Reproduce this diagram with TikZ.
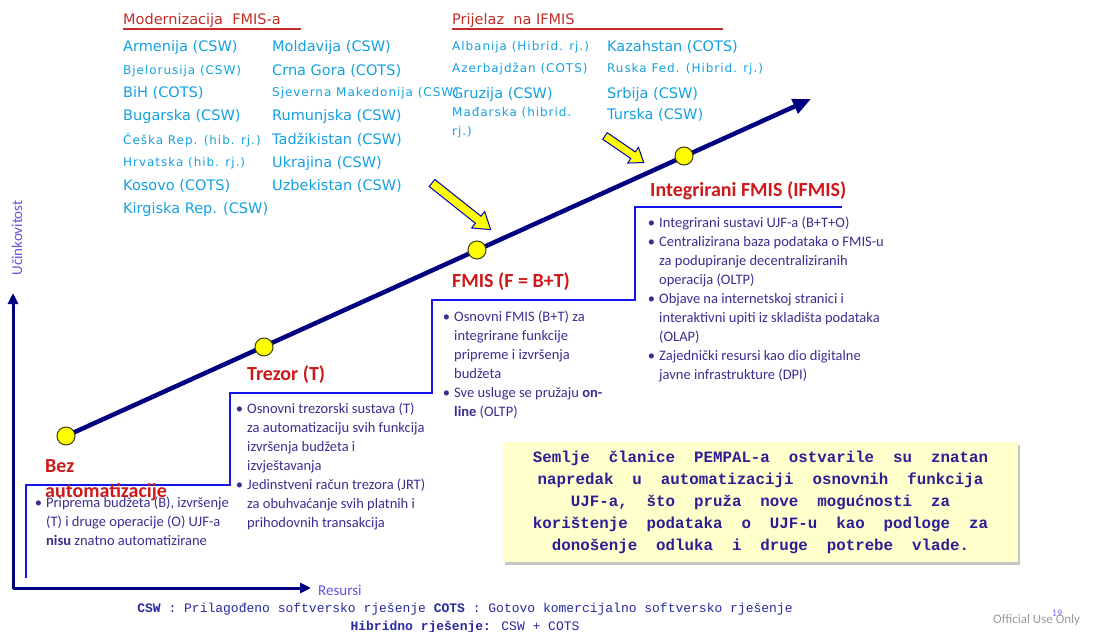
\documentclass[tikz,border=0pt]{standalone}
\usepackage{fontspec}
\setmainfont{Carlito}
\newfontfamily\verd{DejaVu Sans}
\newfontfamily\verdsp{DejaVu Sans}[LetterSpace=8]
\newfontfamily\mono{Liberation Mono}
\usetikzlibrary{arrows.meta,shadows}
\definecolor{axisnavy}{RGB}{0,0,128}
\definecolor{stepblue}{RGB}{20,20,235}
\definecolor{ctry}{RGB}{20,160,225}
\definecolor{headred}{RGB}{195,45,40}
\definecolor{stagered}{RGB}{205,25,25}
\definecolor{bultext}{RGB}{60,45,145}
\definecolor{axlab}{RGB}{95,85,225}
\definecolor{noteyel}{RGB}{255,255,204}
\definecolor{notetext}{RGB}{45,30,150}
\definecolor{legtext}{RGB}{40,40,160}
\definecolor{dotyel}{RGB}{255,255,0}
\definecolor{dotline}{RGB}{60,60,20}
\newcommand{\mybul}{\leavevmode\llap{\textbullet\hspace{4pt}}}
\begin{document}
\begin{tikzpicture}[x=1pt,y=-1pt,
  country/.style={anchor=west,inner sep=0pt,text=ctry,font=\verd\fontsize{14.5}{17}\selectfont},
  countrysm/.style={anchor=west,inner sep=0pt,text=ctry,font=\verdsp\fontsize{12}{19}\selectfont},
  heading/.style={anchor=west,inner sep=0pt,text=headred,font=\verd\fontsize{14.5}{17}\selectfont},
  underl/.style={draw=headred,line width=1.6pt},
  stagetitle/.style={anchor=west,inner sep=0pt,text=stagered,font=\bfseries\fontsize{20}{25}\selectfont,align=left},
  bullets/.style={anchor=north west,inner sep=0pt,text=bultext,font=\fontsize{14.5}{19}\selectfont,align=left},
  axis/.style={draw=axisnavy,line width=3pt,line join=round,{Triangle[length=11pt,width=10pt]}-{Triangle[length=11pt,width=10pt]}},
  axislabel/.style={inner sep=0pt,text=axlab,font=\fontsize{15}{18}\selectfont},
  stepline/.style={draw=stepblue,line width=1.5pt},
  mainline/.style={draw=axisnavy,line width=4.5pt,-{Triangle[length=18pt,width=15pt]}},
  milestone/.style={circle,draw=dotline,line width=1pt,fill=dotyel,minimum size=18pt,inner sep=0pt},
  yarrow/.style={draw=blue!70!black,line width=1pt,fill=dotyel,line join=miter},
  note/.style={fill=noteyel,minimum width=515pt,minimum height=120pt,inner sep=0pt,align=center,text=notetext,font=\mono\bfseries\fontsize{15.8}{22}\selectfont,drop shadow={shadow xshift=1.5pt,shadow yshift=-3pt,opacity=0.45}},
  legend/.style={align=center,inner sep=0pt,text=legtext,font=\mono\fontsize{13}{18}\selectfont}
]
\useasboundingbox (0,0) rectangle (1093,632);

% step outline
\draw[stepline] (26,578) -- (26,485) -- (230,485) -- (230,393) -- (432,393) -- (432,300) -- (635,300) -- (635,207) -- (842,207);

% axes
\coordinate (origin) at (13,588);
\coordinate (ytip) at (13,293);
\coordinate (xtip) at (311,588);
\draw[axis] (ytip) -- (origin) -- (xtip);
\node[axislabel,rotate=90] (ylab) at (17,238) {Učinkovitost};
\node[axislabel,anchor=west] (xlab) at (318,590) {Resursi};

% main line
\coordinate (p1) at (66,436);
\coordinate (p2) at (264,347);
\coordinate (p3) at (477,250);
\coordinate (p4) at (684,156);
\coordinate (mtip) at (811,99);
\draw[mainline] (p1) -- (mtip);
\node[milestone] (m1) at (p1) {};
\node[milestone] (m2) at (p2) {};
\node[milestone] (m3) at (p3) {};
\node[milestone] (m4) at (p4) {};

% yellow block arrows
\begin{scope}[shift={(432,183)},rotate=-38.5]
  \draw[yarrow] (0,-4.5) -- (59,-4.5) -- (59,-10.5) -- (75,0) -- (59,10.5) -- (59,4.5) -- (0,4.5) -- cycle;
\end{scope}
\begin{scope}[shift={(605,136)},rotate=-34.4]
  \draw[yarrow] (0,-4) -- (34,-4) -- (34,-9.5) -- (47,0) -- (34,9.5) -- (34,4) -- (0,4) -- cycle;
\end{scope}

% headings
\node[heading] (hmod) at (123,20) {Modernizacija~~FMIS-a};
\draw[underl] (123,29) -- (301,29);
\node[heading] (hpri) at (452,20) {Prijelaz~~na IFMIS};
\draw[underl] (452,29) -- (723,29);

% countries: modernizacija
\node[country] (cArm) at (123,47) {Armenija (CSW)};
\node[countrysm] (cBje) at (123,71) {Bjelorusija (CSW)};
\node[country] (cBih) at (123,93) {BiH (COTS)};
\node[country] (cBug) at (123,116) {Bugarska (CSW)};
\node[countrysm] (cCes) at (123,140) {Češka Rep. (hib. rj.)};
\node[countrysm] (cHrv) at (123,163) {Hrvatska (hib. rj.)};
\node[country] (cKos) at (123,186) {Kosovo (COTS)};
\node[country] (cKir) at (123,209) {Kirgiska Rep. (CSW)};
\node[country] (cMol) at (272,47) {Moldavija (CSW)};
\node[country] (cCrn) at (272,71) {Crna Gora (COTS)};
\node[countrysm] (cSje) at (272,93) {Sjeverna Makedonija (CSW)};
\node[country] (cRum) at (272,116) {Rumunjska (CSW)};
\node[country] (cTad) at (272,140) {Tadžikistan (CSW)};
\node[country] (cUkr) at (272,163) {Ukrajina (CSW)};
\node[country] (cUzb) at (272,186) {Uzbekistan (CSW)};

% countries: prijelaz
\node[countrysm] (cAlb) at (452,47) {Albanija (Hibrid. rj.)};
\node[countrysm] (cAze) at (452,69) {Azerbajdžan (COTS)};
\node[country] (cGru) at (452,94) {Gruzija (CSW)};
\node[countrysm,align=left] (cMad) at (452,123) {Mađarska (hibrid.\\rj.)};
\node[country] (cKaz) at (607,47) {Kazahstan (COTS)};
\node[countrysm] (cRus) at (607,69) {Ruska Fed. (Hibrid. rj.)};
\node[country] (cSrb) at (607,94) {Srbija (CSW)};
\node[country] (cTur) at (607,115) {Turska (CSW)};

% stage titles
\node[stagetitle] (sBez) at (45,480.5) {Bez\\automatizacije};
\node[stagetitle] (sTrez) at (247,375) {Trezor (T)};
\node[stagetitle] (sFmis) at (452,282) {FMIS (F = B+T)};
\node[stagetitle] (sIfmis) at (650,191) {Integrirani FMIS (IFMIS)};

% bullet texts
\node[bullets] (tBez) at (46,497) {\mybul Priprema budžeta (B), izvršenje\\(T) i druge operacije (O) UJF-a\\\textbf{nisu} znatno automatizirane};
\node[bullets] (tTrez) at (247,403) {\mybul Osnovni trezorski sustava (T)\\za automatizaciju svih funkcija\\izvršenja budžeta i\\izvještavanja\\\mybul Jedinstveni račun trezora (JRT)\\za obuhvaćanje svih platnih i\\prihodovnih transakcija};
\node[bullets] (tFmis) at (454,311) {\mybul Osnovni FMIS (B+T) za\\integrirane funkcije\\pripreme i izvršenja\\budžeta\\\mybul Sve usluge se pružaju \textbf{on-}\\\textbf{line} (OLTP)};
\node[bullets] (tIfmis) at (659,217) {\mybul Integrirani sustavi UJF-a (B+T+O)\\\mybul Centralizirana baza podataka o FMIS-u\\za podupiranje decentraliziranih\\operacija (OLTP)\\\mybul Objave na internetskoj stranici i\\interaktivni upiti iz skladišta podataka\\(OLAP)\\\mybul Zajednički resursi kao dio digitalne\\javne infrastrukture (DPI)};

% note box
\node[note] (note) at (760.5,502) {Semlje~~članice~~PEMPAL-a~~ostvarile~~su~~znatan\\napredak~~u~~automatizaciji~~osnovnih~~funkcija\\UJF-a,~~što~~pruža~~nove~~mogućnosti~~za\\korištenje~~podataka~~o~~UJF-u~~kao~~podloge~~za\\donošenje~~odluka~~i~~druge~~potrebe~~vlade.};

% legend
\node[legend] (leg) at (465,618) {\textbf{CSW} : Prilagođeno softversko rješenje \textbf{COTS} : Gotovo komercijalno softversko rješenje\\\textbf{Hibridno rješenje:} CSW + COTS};

\node[anchor=west,inner sep=0pt,text=gray!80,font=\fontsize{13}{15}\selectfont] (ouo) at (993,620) {Official Use Only};
\node[inner sep=0pt,text=blue!55,font=\fontsize{10}{12}\selectfont] (pgno) at (1057,613) {19};
\end{tikzpicture}
\end{document}
